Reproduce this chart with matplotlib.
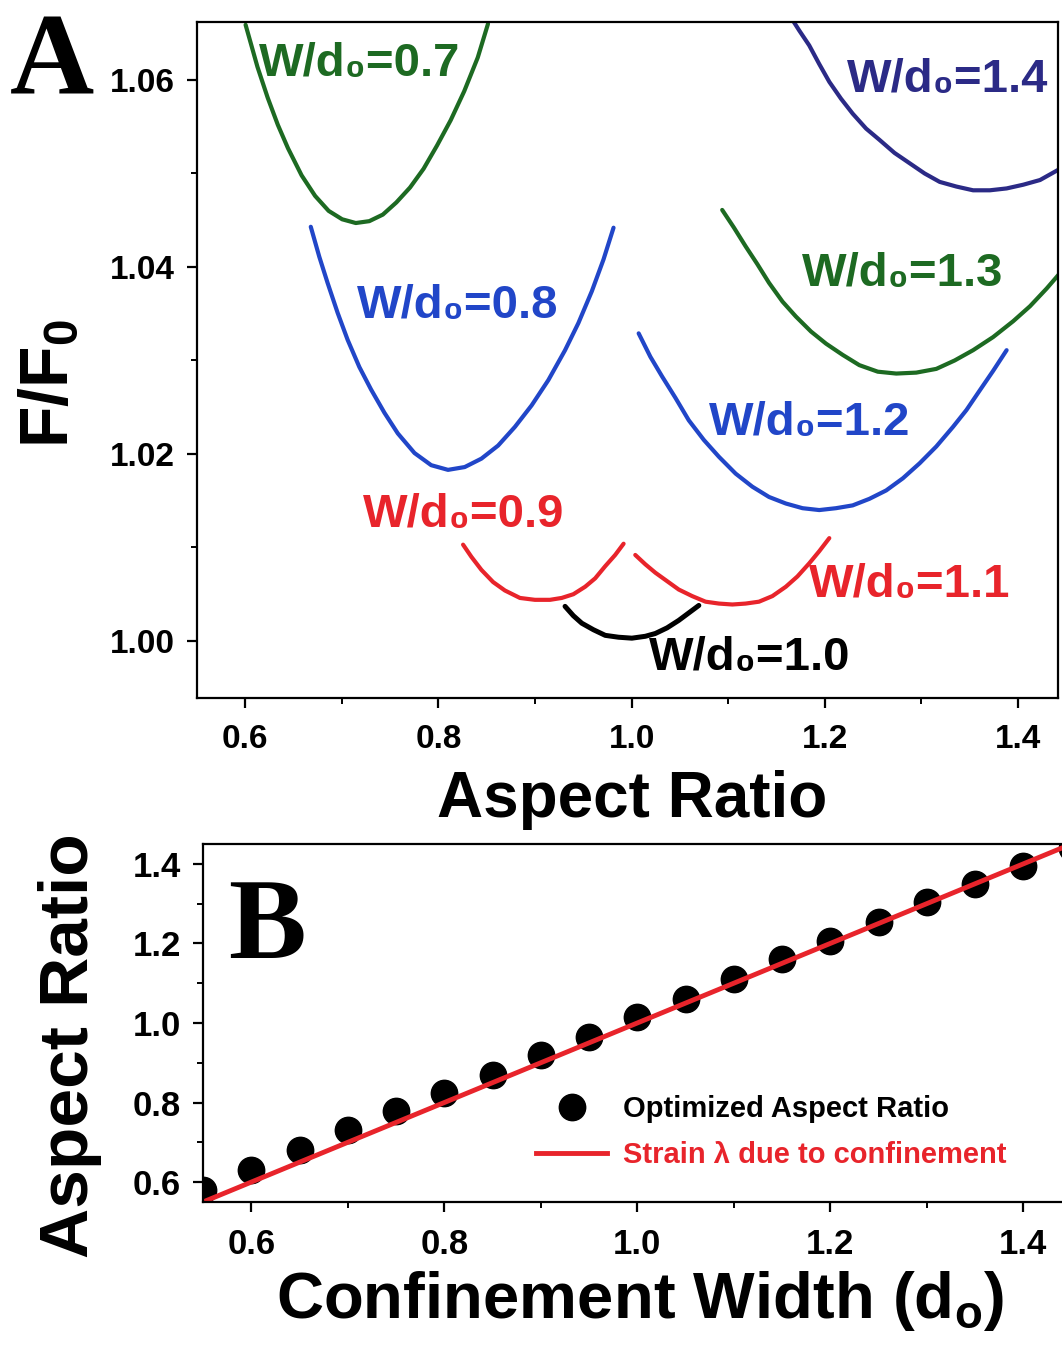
import matplotlib
matplotlib.use("Agg")
import matplotlib.pyplot as plt
from matplotlib.ticker import MultipleLocator, FormatStrFormatter

plt.rcParams['font.family'] = ['Liberation Sans', 'DejaVu Sans']
plt.rcParams['font.weight'] = 'bold'
plt.rcParams['mathtext.default'] = 'regular'

#---Panel A: free energy curves (aspect ratio, F/F0)
ar_07 = [0.6003, 0.6126, 0.6232, 0.6337, 0.6442, 0.6583, 0.6723, 0.6863, 0.7003, 0.7144,
         0.7284, 0.7424, 0.7564, 0.7706, 0.7846, 0.7986, 0.8127, 0.8267, 0.8407, 0.8513]
f_07 = [1.0659, 1.0614, 1.0581, 1.0552, 1.0527, 1.0498, 1.0476, 1.0460, 1.0451, 1.0447,
        1.0449, 1.0456, 1.0469, 1.0485, 1.0505, 1.0530, 1.0557, 1.0588, 1.0624, 1.0660]

ar_08 = [0.6678, 0.6766, 0.6852, 0.6956, 0.7060, 0.7181, 0.7302, 0.7441, 0.7579, 0.7752, 0.7925, 0.8099,
         0.8272, 0.8445, 0.8618, 0.8792, 0.8965, 0.9138, 0.9311, 0.9449, 0.9588, 0.9709, 0.9813]
f_08 = [1.0443, 1.0411, 1.0383, 1.0351, 1.0322, 1.0293, 1.0269, 1.0244, 1.0222, 1.0201, 1.0188, 1.0183,
        1.0186, 1.0195, 1.0209, 1.0229, 1.0252, 1.0279, 1.0311, 1.0340, 1.0374, 1.0408, 1.0442]

ar_09 = [0.8255, 0.8341, 0.8445, 0.8566, 0.8688, 0.8844, 0.8999, 0.9155, 0.9276, 0.9397, 0.9519,
         0.9623, 0.9727, 0.9830, 0.9917]
f_09 = [1.0103, 1.0090, 1.0076, 1.0063, 1.0054, 1.0046, 1.0044, 1.0044, 1.0046, 1.0050, 1.0058,
        1.0067, 1.0080, 1.0092, 1.0104]

ar_10 = [0.9311, 0.9397, 0.9484, 0.9605, 0.9727, 0.9865, 1.0003, 1.0142, 1.0246, 1.0367, 1.0488, 1.0592, 1.0696]
f_10 = [1.0037, 1.0027, 1.0019, 1.0012, 1.0006, 1.0004, 1.0003, 1.0005, 1.0008, 1.0014, 1.0022, 1.0030, 1.0038]

ar_11 = [1.0038, 1.0142, 1.0246, 1.0367, 1.0488, 1.0627, 1.0766, 1.0904, 1.1043, 1.1181, 1.1319,
         1.1458, 1.1597, 1.1717, 1.1839, 1.1943, 1.2047]
f_11 = [1.0092, 1.0082, 1.0073, 1.0064, 1.0055, 1.0048, 1.0042, 1.0040, 1.0039, 1.0040, 1.0042,
        1.0048, 1.0058, 1.0069, 1.0083, 1.0096, 1.0110]

ar_12 = [1.0073, 1.0194, 1.0315, 1.0454, 1.0592, 1.0748, 1.0904, 1.1077, 1.1250, 1.1423, 1.1597, 1.1770, 1.1943,
         1.2116, 1.2289, 1.2462, 1.2636, 1.2809, 1.2982, 1.3155, 1.3328, 1.3467, 1.3605, 1.3744, 1.3883]
f_12 = [1.0329, 1.0304, 1.0283, 1.0260, 1.0236, 1.0215, 1.0197, 1.0179, 1.0165, 1.0154, 1.0147, 1.0142, 1.0140,
        1.0142, 1.0145, 1.0152, 1.0161, 1.0174, 1.0190, 1.0208, 1.0229, 1.0247, 1.0268, 1.0289, 1.0311]

ar_13 = [1.0938, 1.1060, 1.1181, 1.1302, 1.1423, 1.1562, 1.1701, 1.1857, 1.2013, 1.2185, 1.2358,
         1.2549, 1.2740, 1.2947, 1.3155, 1.3345, 1.3536, 1.3743, 1.3951, 1.4125, 1.4298, 1.4457]
f_13 = [1.0461, 1.0442, 1.0422, 1.0403, 1.0383, 1.0363, 1.0347, 1.0331, 1.0318, 1.0306, 1.0295,
        1.0288, 1.0286, 1.0287, 1.0291, 1.0300, 1.0311, 1.0325, 1.0342, 1.0358, 1.0377, 1.0396]

ar_14 = [1.1649, 1.1735, 1.1839, 1.1943, 1.2047, 1.2168, 1.2289, 1.2428, 1.2566, 1.2722,
         1.2878, 1.3034, 1.3190, 1.3363, 1.3536, 1.3709, 1.3883, 1.4056, 1.4229, 1.4419]
f_14 = [1.0667, 1.0653, 1.0637, 1.0617, 1.0598, 1.0580, 1.0564, 1.0548, 1.0536, 1.0522,
        1.0511, 1.0500, 1.0491, 1.0486, 1.0482, 1.0482, 1.0484, 1.0488, 1.0493, 1.0504]

curve_labels = ['0.7', '0.8', '0.9', '1.0', '1.1', '1.2', '1.3', '1.4']
label_x = [0.614, 0.716, 0.722, 1.018, 1.184, 1.080, 1.176, 1.223]
label_y = [1.0617, 1.0358, 1.0135, 0.9982, 1.0060, 1.0233, 1.0393, 1.0600]

#---Panel B: optimized aspect ratio vs confinement width
width_pts = [0.55, 0.60, 0.65, 0.70, 0.75, 0.80, 0.85, 0.90, 0.95, 1.00,
             1.05, 1.10, 1.15, 1.20, 1.25, 1.30, 1.35, 1.40, 1.45]
opt_ratio = [0.58, 0.63, 0.68, 0.73, 0.78, 0.825, 0.87, 0.92, 0.965, 1.015,
             1.06, 1.11, 1.16, 1.205, 1.255, 1.305, 1.35, 1.395, 1.44]
strain_x = [0.55, 1.45]
strain_y = [0.55, 1.45]

green = '#1d6a22'
blue = '#2146c8'
navy = '#2b2a86'
red = '#e8242b'

curves = [(ar_07, f_07, green), (ar_08, f_08, blue), (ar_09, f_09, red), (ar_10, f_10, 'black'),
          (ar_11, f_11, red), (ar_12, f_12, blue), (ar_13, f_13, green), (ar_14, f_14, navy)]

W, H = 1062, 1348
fig = plt.figure(figsize=(W / 100, H / 100), dpi=100)

def style_axes(ax, lsize):
    for s in ax.spines.values():
        s.set_linewidth(1.6)
    ax.tick_params(which='major', direction='out', length=7, width=1.6, labelsize=lsize)
    ax.tick_params(which='minor', direction='out', length=4, width=1.4)
    ax.tick_params(axis='x', pad=12)
    ax.tick_params(axis='y', pad=9)

#---Panel A
axA = fig.add_axes([197 / W, 1 - 698 / H, (1058 - 197) / W, (698 - 22) / H])
for (xs, ys, c) in curves:
    axA.plot(xs, ys, color=c, lw=3.6 if c == 'black' else 3, solid_capstyle='round')
for i in range(len(curve_labels)):
    axA.text(label_x[i], label_y[i], 'W/d\u2080=' + curve_labels[i], color=curves[i][2],
             fontsize=34, ha='left', va='center')
axA.set_xlim(0.55, 1.4415)
axA.set_ylim(0.9939, 1.0662)
axA.xaxis.set_major_locator(MultipleLocator(0.2))
axA.xaxis.set_minor_locator(MultipleLocator(0.1))
axA.yaxis.set_major_locator(MultipleLocator(0.02))
axA.yaxis.set_minor_locator(MultipleLocator(0.01))
axA.xaxis.set_major_formatter(FormatStrFormatter('%.1f'))
axA.yaxis.set_major_formatter(FormatStrFormatter('%.2f'))
style_axes(axA, 24)

fig.text(632 / W, 1 - 817 / H, 'Aspect Ratio', fontsize=46, ha='center', va='baseline')
fig.text(50 / W, 1 - 383 / H, 'F/F$_0$', fontsize=49, rotation=90, ha='center', va='center')
fig.text(10 / W, 1 - 93 / H, 'A', fontsize=84, family='Liberation Serif', ha='left', va='baseline')

#---Panel B
axB = fig.add_axes([203 / W, 1 - 1202 / H, 868.5 / W, (1202 - 844) / H])
axB.plot(width_pts, opt_ratio, 'o', color='black', ms=19, label='Optimized Aspect Ratio')
axB.plot(strain_x, strain_y, '-', color=red, lw=3.5, label='Strain \u03bb due to confinement')
axB.set_xlim(0.55, 1.45)
axB.set_ylim(0.55, 1.45)
axB.xaxis.set_major_locator(MultipleLocator(0.2))
axB.xaxis.set_minor_locator(MultipleLocator(0.1))
axB.yaxis.set_major_locator(MultipleLocator(0.2))
axB.yaxis.set_minor_locator(MultipleLocator(0.1))
axB.xaxis.set_major_formatter(FormatStrFormatter('%.1f'))
axB.yaxis.set_major_formatter(FormatStrFormatter('%.1f'))
style_axes(axB, 25)
axB.legend(loc='upper left', bbox_to_anchor=(0.3834, 0.298), frameon=False, fontsize=21,
           handlelength=2.45, handletextpad=0.55, labelspacing=0.6, borderpad=0, borderaxespad=0,
           labelcolor=['black', red])
axB.text(25 / 868.5, (1202 - 958) / 358, 'B', transform=axB.transAxes, fontsize=84,
         family='Liberation Serif', ha='left', va='baseline')

fig.text(640 / W, 1 - 1318 / H, 'Confinement Width (d$_o$)', fontsize=47, ha='center', va='baseline')
fig.text(70 / W, 1 - 1046 / H, 'Aspect Ratio', fontsize=50, rotation=90, ha='center', va='center')

fig.savefig('out.png', dpi=100)
